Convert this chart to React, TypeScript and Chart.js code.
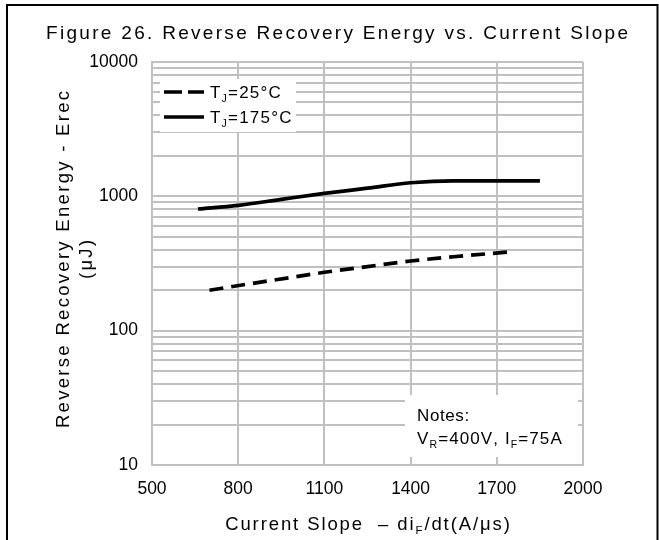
import React, { useEffect, useRef } from "react";
import { Chart, registerables } from "chart.js";

Chart.register(...registerables);

// ---- data ----
const slope25 = [700, 850, 1000, 1100, 1250, 1400, 1550, 1740];
const energy25 = [200, 225, 252, 272, 300, 330, 355, 385];
const slope175 = [660, 800, 950, 1100, 1250, 1400, 1550, 1700, 1850];
const energy175 = [805, 857, 950, 1052, 1150, 1262, 1305, 1305, 1305];
const xTickValues = [500, 800, 1100, 1400, 1700, 2000];
const yLabelValues = [10, 100, 1000, 10000];
const titleText = "Figure 26. Reverse Recovery Energy vs. Current Slope";
const yTitleLines = ["Reverse Recovery Energy - Erec", "(μJ)"];
const legendLabels = [
  [{ t: "T" }, { t: "J", sub: true }, { t: "=25°C" }],
  [{ t: "T" }, { t: "J", sub: true }, { t: "=175°C" }],
];
const notesLines = [
  [{ t: "Notes:" }],
  [{ t: "V" }, { t: "R", sub: true }, { t: "=400V, I" }, { t: "F", sub: true }, { t: "=75A" }],
];
const xTitleSegs = [{ t: "Current Slope  – di" }, { t: "F", sub: true }, { t: "/dt(A/μs)" }];

const FAMILY = '"Liberation Sans", Arial, Helvetica, sans-serif';
const GRID = "#c0c0c0";

type Seg = { t: string; sub?: boolean };

function drawRich(
  ctx: CanvasRenderingContext2D,
  segs: Seg[],
  x: number,
  cy: number,
  size: number,
  spacing: number,
  align: "left" | "center"
) {
  const items: { ch: string; w: number; s: number; sub?: boolean }[] = [];
  let total = 0;
  for (const seg of segs) {
    const s = seg.sub ? size * 0.62 : size;
    ctx.font = `${s}px ${FAMILY}`;
    for (const ch of Array.from(seg.t)) {
      const w = ctx.measureText(ch).width;
      items.push({ ch, w, s, sub: seg.sub });
      total += w + spacing;
    }
  }
  total -= spacing;
  let cx = align === "center" ? x - total / 2 : x;
  const base = cy + size * 0.36;
  ctx.textBaseline = "alphabetic";
  ctx.textAlign = "left";
  for (const it of items) {
    ctx.font = `${it.s}px ${FAMILY}`;
    ctx.fillText(it.ch, cx, base + (it.sub ? size * 0.22 : 0));
    cx += it.w + spacing;
  }
}

const decorPlugin = {
  id: "decor",
  afterDraw(chart: any) {
    const ctx: CanvasRenderingContext2D = chart.ctx;
    const area = chart.chartArea;
    ctx.save();
    // outer frame
    ctx.strokeStyle = "#000";
    ctx.lineWidth = 2;
    ctx.strokeRect(7, 5, 650.5, 700);

    ctx.fillStyle = "#000";
    // title
    drawRich(ctx, [{ t: titleText }], 337, 32, 19, 2.3, "center");

    // y title (rotated)
    const cyMid = (area.top + area.bottom) / 2 - 4;
    yTitleLines.forEach((line, i) => {
      ctx.save();
      ctx.translate(62 + i * 23.5, cyMid);
      ctx.rotate(-Math.PI / 2);
      ctx.fillStyle = "#000";
      drawRich(ctx, [{ t: line }], 0, 0, 18.5, 2.3, "center");
      ctx.restore();
    });

    // x title
    drawRich(ctx, xTitleSegs, (area.left + area.right) / 2, 523, 18.5, 1.9, "center");

    // legend
    ctx.fillStyle = "#fff";
    ctx.fillRect(160, 79, 136, 53);
    ctx.strokeStyle = "#000";
    ctx.lineWidth = 3.5;
    ctx.lineCap = "butt";
    ctx.setLineDash([18, 6]);
    ctx.beginPath();
    ctx.moveTo(164, 92);
    ctx.lineTo(204, 92);
    ctx.stroke();
    ctx.setLineDash([]);
    ctx.beginPath();
    ctx.moveTo(164, 117);
    ctx.lineTo(204, 117);
    ctx.stroke();
    ctx.fillStyle = "#000";
    drawRich(ctx, legendLabels[0], 210, 92, 17, 1.2, "left");
    drawRich(ctx, legendLabels[1], 210, 117, 17, 1.2, "left");

    // notes box
    ctx.fillStyle = "#fff";
    ctx.fillRect(405, 395, 173, 62);
    ctx.fillStyle = "#000";
    drawRich(ctx, notesLines[0], 417, 415, 17, 0.6, "left");
    drawRich(ctx, notesLines[1], 417, 438, 17, 1.1, "left");
    ctx.restore();
  },
};

export default function App() {
  const ref = useRef<HTMLCanvasElement | null>(null);

  useEffect(() => {
    if (!ref.current) return;
    const tickFont = { family: FAMILY, size: 17.5 };
    const chart = new Chart(ref.current, {
      type: "line",
      data: {
        datasets: [
          {
            label: "TJ=25°C",
            data: slope25.map((x, i) => ({ x, y: energy25[i] })),
            borderColor: "#000",
            borderWidth: 3.7,
            borderDash: [14, 8],
            borderCapStyle: "butt",
            pointRadius: 0,
            cubicInterpolationMode: "monotone",
            fill: false,
          },
          {
            label: "TJ=175°C",
            data: slope175.map((x, i) => ({ x, y: energy175[i] })),
            borderColor: "#000",
            borderWidth: 3.7,
            pointRadius: 0,
            cubicInterpolationMode: "monotone",
            fill: false,
          },
        ],
      },
      options: {
        animation: false,
        responsive: false,
        devicePixelRatio: 1,
        layout: { padding: { top: 62, right: 76, left: 0, bottom: 0 } },
        plugins: {
          legend: { display: false },
          title: { display: false },
          tooltip: { enabled: false },
        },
        scales: {
          x: {
            type: "linear",
            min: 500,
            max: 2000,
            afterBuildTicks: (s: any) => {
              s.ticks = xTickValues.map((v) => ({ value: v }));
            },
            afterFit: (s: any) => {
              s.height = 75;
            },
            ticks: {
              font: tickFont,
              color: "#000",
              padding: 14,
              maxRotation: 0,
              autoSkip: false,
              callback: (v: any) => String(v),
            },
            grid: { color: GRID, lineWidth: 2, drawTicks: false },
            border: { color: GRID, width: 2 },
          },
          y: {
            type: "logarithmic",
            min: 10,
            max: 10000,
            afterBuildTicks: (s: any) => {
              const t: { value: number }[] = [];
              for (let d = 0; d < yLabelValues.length - 1; d++) {
                for (let m = 1; m <= 9; m++) t.push({ value: yLabelValues[d] * m });
              }
              t.push({ value: yLabelValues[yLabelValues.length - 1] });
              s.ticks = t;
            },
            afterFit: (s: any) => {
              s.width = 152;
            },
            ticks: {
              font: tickFont,
              color: "#000",
              padding: 14,
              autoSkip: false,
              callback: (v: any) => (yLabelValues.includes(Number(v)) ? String(v) : ""),
            },
            grid: { color: GRID, lineWidth: 2, drawTicks: false },
            border: { color: GRID, width: 2 },
          },
        },
      } as any,
      plugins: [decorPlugin],
    });
    return () => chart.destroy();
  }, []);

  return (
    <div style={{ position: "fixed", left: 0, top: 0, width: 659, height: 540, background: "#fff" }}>
      <canvas ref={ref} width={659} height={540} style={{ width: 659, height: 540, display: "block" }} />
    </div>
  );
}
